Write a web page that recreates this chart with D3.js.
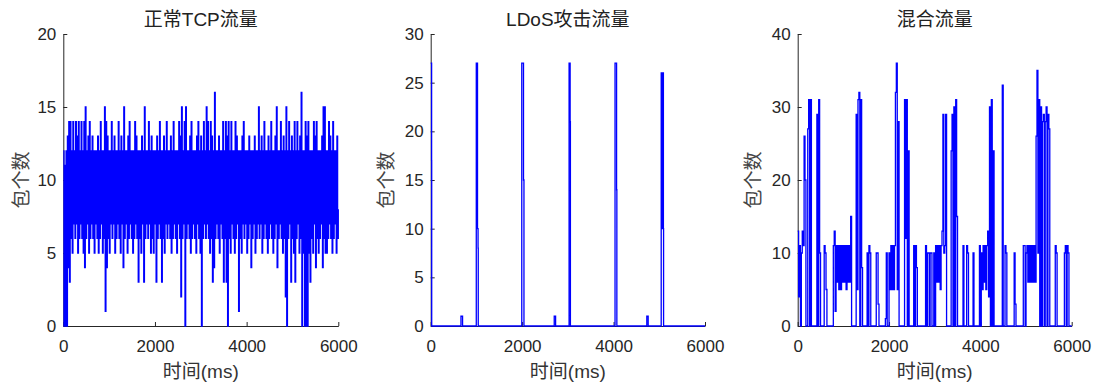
<!DOCTYPE html>
<html><head><meta charset="utf-8">
<script src="https://cdn.jsdelivr.net/npm/d3@7"></script>
<style>body{margin:0;background:#fff}</style>
</head><body><svg id="c" width="1096" height="385"></svg>
<script>
const titles = ["正常TCP流量", "LDoS攻击流量", "混合流量"];
const xLabel = "时间(ms)";
const yLabel = "包个数";
const xTicks = [0, 2000, 4000, 6000];
const yTicksTcp = [0, 5, 10, 15, 20];
const yTicksLdos = [0, 5, 10, 15, 20, 25, 30];
const yTicksMix = [0, 10, 20, 30, 40];
const yMaxes = [20, 30, 40];

// normal TCP traffic, one sample every 15 ms
const tcpStep = 15;
const tcpCounts = [
12,0,11,0,12,0,13,4,14,3,14,6,12,5,14,7,12,6,14,7,
13,5,14,6,12,7,14,6,12,5,14,4,15,6,12,7,13,5,14,6,
12,7,13,6,12,5,12,7,12,6,13,5,12,6,14,7,12,5,12,6,
15,1,14,4,13,6,12,5,12,7,14,6,12,7,13,5,12,6,12,7,
14,6,12,5,13,7,12,4,15,6,12,7,12,5,13,6,14,7,12,6,
12,5,12,6,14,7,13,6,12,3,12,6,12,5,13,7,12,3,15,6,
12,7,12,6,14,7,12,5,13,6,12,5,12,7,12,3,13,6,12,7,
14,6,12,3,12,6,13,5,12,7,14,6,12,7,12,6,13,5,12,6,
14,7,12,6,12,5,12,7,14,6,13,2,15,6,12,7,14,0,15,6,
12,7,12,6,13,5,14,6,12,7,12,6,12,5,13,7,14,6,12,5,
13,0,12,6,14,7,12,6,15,7,14,6,12,5,14,6,13,3,12,4,
16,6,12,7,12,6,13,5,12,7,12,6,14,3,12,6,14,3,13,0,
14,6,12,5,14,7,12,6,12,5,14,6,13,7,12,1,12,6,12,5,
13,7,14,6,12,7,12,5,12,6,13,7,12,4,12,6,12,7,13,5,
12,6,12,7,15,6,12,7,13,5,12,6,14,7,12,6,12,5,13,6,
12,7,14,6,12,5,12,6,13,7,15,4,12,6,12,7,14,6,12,5,
13,6,12,2,15,0,12,6,14,7,12,3,13,6,12,5,14,3,12,6,
14,7,12,5,13,6,16,0,12,5,12,0,14,0,13,0,14,5,12,3,
12,6,12,5,14,7,13,4,14,6,12,5,12,6,12,7,13,4,15,6,
15,5,12,5,12,6,14,7,13,6,12,5,14,6,12,7,12,5,13,6,
8];

// LDoS attack traffic: breakpoints (ms) and packet counts
const ldosTime = [0,18,20,22,660,662,695,697,995,997,1020,1024,1036,1040,1990,1992,2018,2030,2040,2700,2702,2730,2732,3025,3027,3045,3050,3056,4030,4032,4058,4066,4072,4725,4727,4755,4757,5040,5042,5060,5064,5085,5090,5094,6000];
const ldosCounts = [27,27,17,0,0,1,1,0,0,27,27,10,8,0,0,27,27,15,0,0,1,1,0,0,27,27,21,0,0,27,27,14,0,0,1,1,0,0,26,10,26,26,10,0,0];

// mixed traffic, one sample every 20 ms
const mixStep = 20;
const mixCounts = [
13,4,11,0,10,13,11,26,20,0,
0,27,31,0,31,0,0,0,0,0,
0,29,0,31,10,0,0,0,0,11,
10,5,0,0,0,0,0,0,0,11,
13,2,11,6,11,5,11,5,11,6,
11,6,11,5,11,6,11,6,15,0,
0,0,0,0,29,5,31,32,0,31,
8,0,0,0,0,0,10,0,11,10,
0,0,0,0,0,0,10,10,3,0,
0,0,0,0,0,0,1,10,0,0,
10,5,11,5,11,5,11,32,36,5,
28,0,0,0,0,0,0,31,12,31,
0,24,0,0,0,0,0,11,0,11,
8,0,0,0,0,0,0,0,0,0,
11,0,10,10,0,10,10,0,0,10,
0,11,6,11,6,11,5,11,13,29,
10,11,29,0,0,0,0,0,24,29,
0,30,0,31,15,0,0,0,0,0,
0,11,0,0,0,11,10,0,0,0,
0,0,10,0,0,0,0,0,0,11,
0,10,5,11,6,11,5,11,13,4,
30,0,31,0,24,0,0,0,0,0,
0,0,0,0,33,0,0,11,10,0,
0,0,0,0,0,0,0,10,3,0,
0,0,0,0,0,0,0,11,11,0,
10,11,6,11,6,11,6,11,6,11,
6,26,35,10,31,0,30,0,28,29,
0,28,30,0,29,27,0,0,0,0,
0,0,11,10,0,0,0,0,0,0,
0,0,10,11,0,11,10,0,0,0,
0];

const series = [
  tcpCounts.map((v, i) => [i * tcpStep, v]),
  ldosTime.map((t, i) => [t, ldosCounts[i]]),
  mixCounts.map((v, i) => [i * mixStep, v])
];
const yTicks = [yTicksTcp, yTicksLdos, yTicksMix];

const plots = [
  {left: 63.3, right: 338.3, ylab: 21.7},
  {left: 430.7, right: 705, ylab: 386.7},
  {left: 797.7, right: 1071.7, ylab: 754}
];
const plotTop = 34, plotBottom = 326;
const axisColor = "#262626";
const latin = "'Liberation Sans', Arial, 'Noto Sans CJK SC', sans-serif";

const svg = d3.select("#c");

plots.forEach((p, k) => {
  const x = d3.scaleLinear().domain([0, 6000]).range([p.left, p.right]);
  const y = d3.scaleLinear().domain([0, yMaxes[k]]).range([plotBottom, plotTop]);
  const g = svg.append("g");

  const gx = g.append("g").attr("transform", `translate(0,${plotBottom})`)
    .call(d3.axisBottom(x).tickValues(xTicks).tickSize(-4).tickSizeOuter(0).tickPadding(14).tickFormat(d3.format("d")));
  const gy = g.append("g").attr("transform", `translate(${p.left},0)`)
    .call(d3.axisLeft(y).tickValues(yTicks[k]).tickSize(-4).tickSizeOuter(0).tickPadding(7).tickFormat(d3.format("d")));
  [gx, gy].forEach(a => {
    a.attr("font-size", 17).attr("font-family", latin);
    a.selectAll("path,line").attr("stroke", axisColor);
    a.selectAll("text").attr("fill", axisColor);
  });

  const line = d3.line().curve(d3.curveStepAfter).x(d => x(d[0])).y(d => y(d[1]));
  g.append("path").datum(series[k])
    .attr("d", line)
    .attr("fill", "none")
    .attr("stroke", "#0000ff")
    .attr("stroke-width", 1.3)
    .attr("stroke-linejoin", "miter");

  const cx = (p.left + p.right) / 2;
  g.append("text").attr("x", cx).attr("y", 26).attr("text-anchor", "middle")
    .attr("font-size", 19).attr("font-family", latin).attr("fill", "#222")
    .text(titles[k]);
  g.append("text").attr("x", cx).attr("y", 378).attr("text-anchor", "middle")
    .attr("font-size", 19).attr("font-family", latin).attr("fill", "#333")
    .text(xLabel);
  g.append("text").attr("transform", `translate(${p.ylab + 6},${(plotTop + plotBottom) / 2}) rotate(-90)`)
    .attr("text-anchor", "middle")
    .attr("font-size", 19).attr("font-family", latin).attr("fill", "#444")
    .text(yLabel);
});
</script>
</body></html>
